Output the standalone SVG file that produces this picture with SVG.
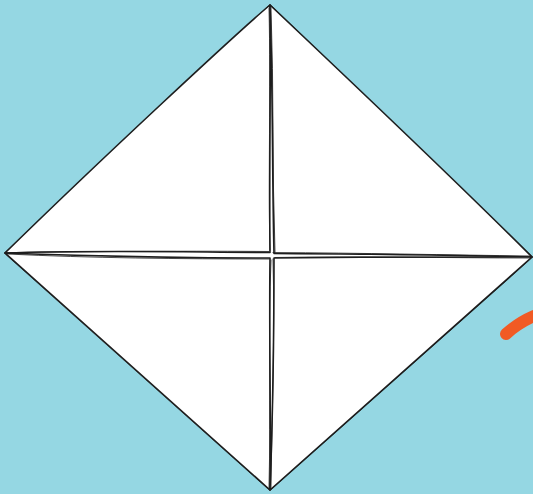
<svg xmlns="http://www.w3.org/2000/svg" width="533" height="494" viewBox="0 0 533 494">
<style>
.q{fill:#ffffff;stroke:#1e1e1e;stroke-width:1.6;stroke-linejoin:round;stroke-linecap:round}
.r{fill:none;stroke:#1e1e1e;stroke-width:1;stroke-linecap:round;opacity:0.8}
</style>
<rect width="533" height="494" fill="#95d7e3"/>
<g id="diamond">
<polygon points="270,5 532,257 270,490 5,253" fill="#ffffff" stroke="#1e1e1e" stroke-width="1.6" stroke-linejoin="round"/>
</g>
<g id="quadrant-tl">
<path class="q" d="M270,5 C240,30 100,160 5,253 C90,250 180,252 270,252.5 C269,170 271,90 270,5 Z"/>
<path class="r" d="M6,253 C100,251 200,251 269,251.5 M269,8 C271,90 268,180 270,250"/>
</g>
<g id="quadrant-tr">
<path class="q" d="M270,5 C360,90 450,175 532,257 C450,255 360,254 274,253.5 C272,170 273,90 270,5 Z"/>
<path class="r" d="M273,252.5 C360,253 450,255 530,256 M271,7 C274,90 272,170 275,252"/>
</g>
<g id="quadrant-bl">
<path class="q" d="M5,253 C90,330 180,410 270,490 C271,410 269,330 270,258 C180,258 90,256 5,253 Z"/>
<path class="r" d="M7,254 C90,258 180,259 269,259 M271,260 C268,330 271,410 269,488"/>
</g>
<g id="quadrant-br">
<path class="q" d="M532,257 C450,330 360,410 270,490 C273,410 274,330 274,258 C360,257 450,257 532,257 Z"/>
<path class="r" d="M275,257.5 C360,256 450,258 530,258 M273,259 C275,330 272,410 271,488"/>
</g>
<g id="stroke">
<path d="M506,334 Q518,323 534,316" fill="none" stroke="#f15a24" stroke-width="12" stroke-linecap="round"/>
</g>
<g id="connectors"></g>
</svg>
